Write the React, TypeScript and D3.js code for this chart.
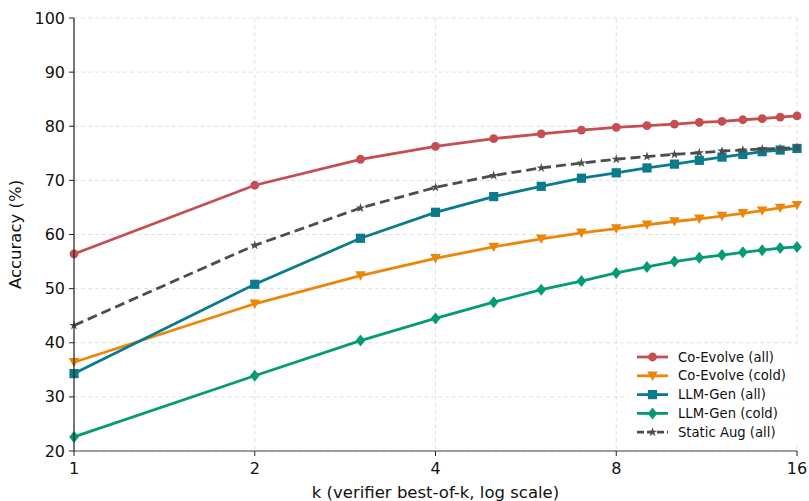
import React from "react";
import * as d3 from "d3";

const ks = [1, 2, 3, 4, 5, 6, 7, 8, 9, 10, 11, 12, 13, 14, 15, 16];
const coEvolveAll = [56.4, 69.1, 73.9, 76.3, 77.7, 78.6, 79.3, 79.8, 80.1, 80.4, 80.7, 80.9, 81.2, 81.4, 81.7, 81.9];
const coEvolveCold = [36.4, 47.2, 52.4, 55.6, 57.7, 59.2, 60.3, 61.1, 61.8, 62.4, 62.9, 63.4, 63.9, 64.4, 64.9, 65.4];
const llmGenAll = [34.3, 50.8, 59.3, 64.1, 67.0, 68.9, 70.4, 71.4, 72.3, 73.0, 73.7, 74.3, 74.8, 75.3, 75.6, 75.9];
const llmGenCold = [22.6, 33.9, 40.4, 44.5, 47.5, 49.8, 51.4, 52.9, 54.0, 55.0, 55.7, 56.2, 56.7, 57.1, 57.5, 57.7];
const staticAugAll = [43.2, 58.0, 64.9, 68.7, 70.9, 72.3, 73.2, 73.9, 74.4, 74.8, 75.1, 75.4, 75.6, 75.8, 75.9, 76.1];
const xTicks = [1, 2, 4, 8, 16];
const yTicks = [20, 30, 40, 50, 60, 70, 80, 90, 100];

const series = [
  { name: "Co-Evolve (all)", values: coEvolveAll, color: "#c44e52", marker: "circle", dash: "" },
  { name: "Co-Evolve (cold)", values: coEvolveCold, color: "#ec860a", marker: "triangle", dash: "" },
  { name: "LLM-Gen (all)", values: llmGenAll, color: "#0a7b8c", marker: "square", dash: "" },
  { name: "LLM-Gen (cold)", values: llmGenCold, color: "#049b75", marker: "diamond", dash: "" },
  { name: "Static Aug (all)", values: staticAugAll, color: "#4d4d4d", marker: "star", dash: "10,5" },
];

const W = 809, H = 501;
const left = 74, right = 797, top = 18, bottom = 451;
const font = "DejaVu Sans, sans-serif";

function Marker({ type, x, y, color }: { type: string; x: number; y: number; color: string }) {
  if (type === "circle") return <circle cx={x} cy={y} r={4.4} fill={color} />;
  if (type === "square") return <rect x={x - 4.6} y={y - 4.6} width={9.2} height={9.2} fill={color} />;
  if (type === "triangle")
    return <path d={`M${x - 5.3},${y - 4.3}L${x + 5.3},${y - 4.3}L${x},${y + 5.1}Z`} fill={color} />;
  if (type === "diamond")
    return <path d={`M${x},${y - 6}L${x + 4.8},${y}L${x},${y + 6}L${x - 4.8},${y}Z`} fill={color} />;
  const star = d3.symbol(d3.symbolStar, 28)();
  return <path d={star || ""} transform={`translate(${x},${y})`} fill={color} />;
}

export default function App() {
  const x = d3.scaleLog().base(2).domain([1, 16]).range([left, right]);
  const y = d3.scaleLinear().domain([20, 100]).range([bottom, top]);
  const line = d3
    .line<number>()
    .x((_, i) => x(ks[i]))
    .y((d) => y(d));

  const legX = 637, legY = 357, legStep = 18.8;

  return (
    <svg width={W} height={H} style={{ position: "absolute", left: 0, top: 0 }} fontFamily={font}>
      <rect width={W} height={H} fill="#fff" />
      {/* grid */}
      {yTicks.map((t) => (
        <line key={"gy" + t} x1={left} x2={right} y1={y(t)} y2={y(t)} stroke="#d9d9d9" strokeWidth={0.8} strokeDasharray="4,3" />
      ))}
      {xTicks.map((t) => (
        <line key={"gx" + t} x1={x(t)} x2={x(t)} y1={top} y2={bottom} stroke="#d9d9d9" strokeWidth={0.8} strokeDasharray="4,3" />
      ))}
      {/* lines */}
      {series.map((s) => (
        <g key={s.name}>
          <path d={line(s.values) || ""} fill="none" stroke={s.color} strokeWidth={2.8} strokeDasharray={s.dash} />
          {s.values.map((v, i) => (
            <Marker key={i} type={s.marker} x={x(ks[i])} y={y(v)} color={s.color} />
          ))}
        </g>
      ))}
      {/* axes */}
      <line x1={left} x2={left} y1={top} y2={bottom} stroke="#222" strokeWidth={1.2} />
      <line x1={left} x2={right} y1={bottom} y2={bottom} stroke="#444" strokeWidth={1.2} />
      {yTicks.map((t) => (
        <g key={"yt" + t}>
          <line x1={left - 5} x2={left} y1={y(t)} y2={y(t)} stroke="#222" strokeWidth={1} />
          <text x={left - 9} y={y(t)} dy="0.35em" textAnchor="end" fontSize={16} fill="#111">
            {t}
          </text>
        </g>
      ))}
      {xTicks.map((t) => (
        <g key={"xt" + t}>
          <line x1={x(t)} x2={x(t)} y1={bottom} y2={bottom + 5} stroke="#222" strokeWidth={1} />
          <text x={x(t)} y={bottom + 23} textAnchor="middle" fontSize={16} fill="#111">
            {t}
          </text>
        </g>
      ))}
      <text x={(left + right) / 2} y={H - 3} textAnchor="middle" fontSize={16.5} fill="#111">
        k (verifier best-of-k, log scale)
      </text>
      <text transform={`translate(21,${(top + bottom) / 2}) rotate(-90)`} textAnchor="middle" fontSize={16.5} fill="#111">
        Accuracy (%)
      </text>
      {/* legend */}
      <rect x={628} y={344} width={172} height={98} fill="#fff" opacity={0.8} rx={3} />
      {series.map((s, i) => {
        const ly = legY + i * legStep;
        return (
          <g key={"lg" + s.name}>
            <line x1={legX} x2={legX + 31} y1={ly} y2={ly} stroke={s.color} strokeWidth={2.8} strokeDasharray={s.dash ? "7,3" : ""} />
            <Marker type={s.marker} x={legX + 15.5} y={ly} color={s.color} />
            <text x={legX + 41} y={ly} dy="0.35em" fontSize={13.2} fill="#111">
              {s.name}
            </text>
          </g>
        );
      })}
    </svg>
  );
}
